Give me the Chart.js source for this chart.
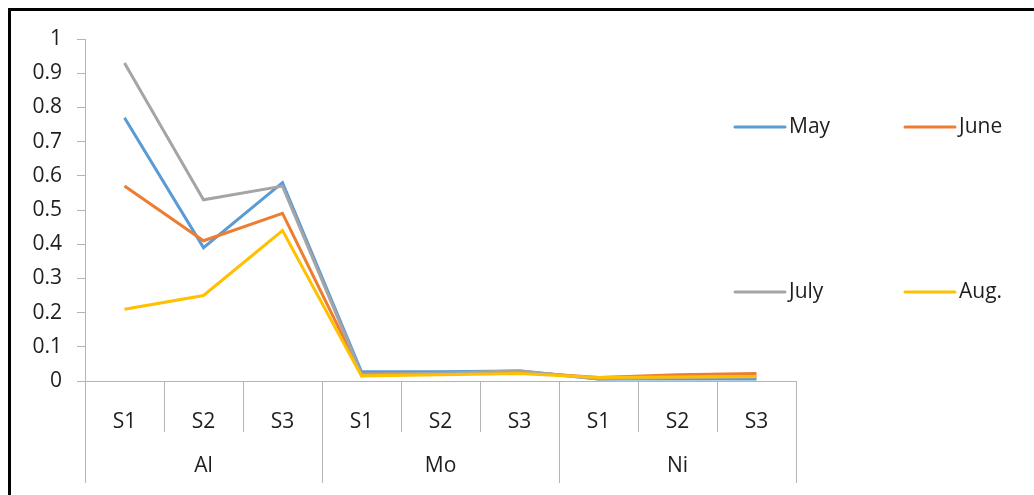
<!DOCTYPE html>
<html lang="en">
<head>
  <meta charset="UTF-8" />
  <title>Monthly values by element and site</title>
  <script src="https://cdn.jsdelivr.net/npm/chart.js"></script>
  <style>
    body {
      margin: 0;
      background: #fff;
      font-family: 'Open Sans', sans-serif;
    }

    .wrap {
      position: relative;
      width: 1034px;
      height: 495px;
      overflow: hidden;
    }

    .frame {
      position: absolute;
      top: 8px;
      left: 8px;
      width: 1040px;
      height: 500px;
      border-top: 3px solid #000;
      border-left: 3px solid #000;
      pointer-events: none;
    }

    canvas {
      position: absolute;
      top: 0;
      left: 0;
    }
  </style>
</head>
<body>
  <div class="wrap">
    <canvas id="chart" width="1034" height="495"></canvas>
    <div class="frame"></div>
  </div>

  <script>
    // categories: sites inside each element group
    const groups = ['Al', 'Mo', 'Ni'];
    const sites = ['S1', 'S2', 'S3'];
    const labels = ['S1', 'S2', 'S3', 'S1', 'S2', 'S3', 'S1', 'S2', 'S3'];

    const seriesNames = ['May', 'June', 'July', 'Aug.'];
    const seriesColors = ['#5B9BD5', '#ED7D31', '#A5A5A5', '#FFC000'];

    const may  = [0.77, 0.39, 0.58, 0.027, 0.027, 0.029, 0.006, 0.006, 0.006];
    const june = [0.57, 0.41, 0.49, 0.020, 0.022, 0.026, 0.010, 0.018, 0.022];
    const july = [0.93, 0.53, 0.57, 0.020, 0.023, 0.030, 0.006, 0.010, 0.012];
    const aug  = [0.21, 0.25, 0.44, 0.015, 0.018, 0.022, 0.010, 0.012, 0.013];

    const yTicks = [0, 0.1, 0.2, 0.3, 0.4, 0.5, 0.6, 0.7, 0.8, 0.9, 1];
    const yTickLabels = ['0', '0.1', '0.2', '0.3', '0.4', '0.5', '0.6', '0.7', '0.8', '0.9', '1'];

    const seriesData = [may, june, july, aug];
    const textColor = '#1e1e1e';
    const axisColor = '#b4b4b4';
    const font = { family: "'Open Sans', sans-serif", size: 21 };

    // group separators and labels below the x axis
    const groupAxis = {
      id: 'groupAxis',
      afterDraw(chart) {
        const { ctx, chartArea } = chart;
        const x = chart.scales.x;
        const step = (chartArea.right - chartArea.left) / labels.length;
        const base = chartArea.bottom;
        ctx.save();
        ctx.strokeStyle = axisColor;
        ctx.lineWidth = 1;
        for (let i = 0; i <= labels.length; i++) {
          const px = Math.round(chartArea.left + i * step) + 0.5;
          const end = i % sites.length === 0 ? base + 102 : base + 51;
          ctx.beginPath();
          ctx.moveTo(px, base);
          ctx.lineTo(px, end);
          ctx.stroke();
        }
        ctx.fillStyle = textColor;
        ctx.font = `${font.size}px ${font.family}`;
        ctx.textAlign = 'center';
        ctx.textBaseline = 'middle';
        groups.forEach((g, gi) => {
          const mid = (x.getPixelForValue(gi * 3) + x.getPixelForValue(gi * 3 + 2)) / 2;
          ctx.fillText(g, mid, base + 85);
        });
        ctx.restore();
      }
    };

    // 2x2 legend on the right
    const legendSpots = [[735, 127], [905, 127], [735, 292], [905, 292]];
    const sideLegend = {
      id: 'sideLegend',
      afterDraw(chart) {
        const { ctx } = chart;
        ctx.save();
        ctx.font = `${font.size}px ${font.family}`;
        ctx.textBaseline = 'middle';
        ctx.textAlign = 'left';
        seriesNames.forEach((name, i) => {
          const [lx, ly] = legendSpots[i];
          ctx.strokeStyle = seriesColors[i];
          ctx.lineWidth = 3;
          ctx.lineCap = 'round';
          ctx.beginPath();
          ctx.moveTo(lx, ly);
          ctx.lineTo(lx + 50, ly);
          ctx.stroke();
          ctx.fillStyle = textColor;
          ctx.fillText(name, lx + 54, ly);
        });
        ctx.restore();
      }
    };

    const ctx = document.getElementById('chart').getContext('2d');
    const chart = new Chart(ctx, {
      type: 'line',
      data: {
        labels: labels,
        datasets: seriesNames.map((name, i) => ({
          label: name,
          data: seriesData[i],
          borderColor: seriesColors[i],
          backgroundColor: seriesColors[i],
          borderWidth: 3,
          pointRadius: 0,
          tension: 0,
          fill: false,
          order: seriesNames.length - i
        }))
      },
      options: {
        responsive: false,
        animation: false,
        devicePixelRatio: 1,
        layout: { padding: { top: 39, right: 238, bottom: 0, left: 0 } },
        plugins: {
          legend: { display: false },
          tooltip: { enabled: false }
        },
        scales: {
          x: {
            offset: true,
            grid: { display: false },
            border: { display: true, color: axisColor, width: 1 },
            ticks: { color: textColor, font: font, padding: 20, maxRotation: 0 },
            afterFit(scale) { scale.height = 114; }
          },
          y: {
            min: 0,
            max: 1,
            afterBuildTicks(scale) {
              scale.ticks = yTicks.map(v => ({ value: v }));
            },
            grid: {
              drawOnChartArea: false,
              drawTicks: true,
              tickLength: 8,
              color: axisColor
            },
            border: { display: true, color: axisColor, width: 1 },
            ticks: {
              color: textColor,
              font: font,
              padding: 15,
              callback: (v, i) => yTickLabels[i]
            },
            afterFit(scale) { scale.width = 85; }
          }
        }
      },
      plugins: [groupAxis, sideLegend]
    });
  </script>
</body>
</html>
